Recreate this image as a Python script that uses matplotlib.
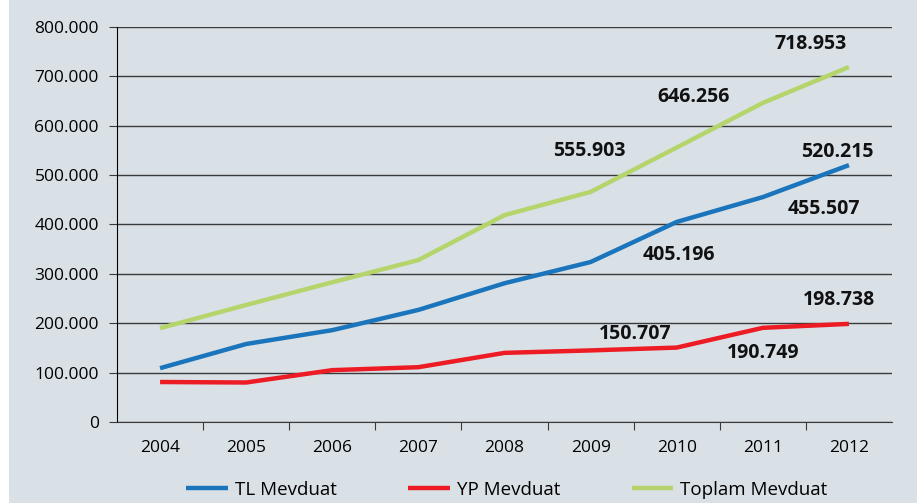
import matplotlib.pyplot as plt
from matplotlib.patches import Rectangle
from matplotlib.ticker import FuncFormatter, FixedLocator

years = ["2004", "2005", "2006", "2007", "2008", "2009", "2010", "2011", "2012"]
tl = [109000, 158000, 186000, 227000, 281000, 324000, 405196, 455507, 520215]
yp = [81000, 80000, 105000, 111000, 140000, 145000, 150707, 190749, 198738]
toplam = [190000, 237000, 283000, 328000, 419000, 466000, 555903, 646256, 718953]

# value labels: (text, x index, y)
labels = [
    ("718.953", 7.56, 765000), ("520.215", 7.86, 547000), ("455.507", 7.71, 431000),
    ("646.256", 6.2, 658000), ("555.903", 4.99, 549000), ("405.196", 6.03, 338000),
    ("150.707", 5.52, 178000), ("190.749", 7.0, 140000), ("198.738", 7.88, 247000),
]

plt.rcParams['font.family'] = ['Open Sans', 'DejaVu Sans']
bg = "#d9e1e7"

fig = plt.figure(figsize=(9.17, 5.03), dpi=100, facecolor="white")
fig.patches.append(Rectangle((9 / 917, 0), 1, 1, transform=fig.transFigure,
                             facecolor=bg, edgecolor="none", zorder=-10))
ax = fig.add_axes([117 / 917, 81 / 503, 775 / 917, 395 / 503])
ax.set_facecolor(bg)

x = list(range(len(years)))
ax.plot(x, tl, color="#1b75bc", lw=3.2, label="TL Mevduat", solid_capstyle="butt")
ax.plot(x, yp, color="#ed1c24", lw=3.2, label="YP Mevduat", solid_capstyle="butt")
ax.plot(x, toplam, color="#b5d56c", lw=3.2, label="Toplam Mevduat", solid_capstyle="butt")

for t, lx, ly in labels:
    ax.text(lx, ly, t, ha="center", va="center", fontsize=14, fontweight="bold", color="#111111")

ax.set_xlim(-0.5, len(years) - 0.5)
ax.set_ylim(0, 800000)
ax.set_yticks(range(0, 800001, 100000))
ax.yaxis.set_major_formatter(FuncFormatter(lambda v, p: "0" if v == 0 else f"{int(v):,}".replace(",", ".")))
ax.yaxis.grid(True, color="#3a3a3a", lw=1)
ax.set_axisbelow(True)

ax.xaxis.set_major_locator(FixedLocator([i + 0.5 for i in range(len(years) - 1)]))
ax.xaxis.set_minor_locator(FixedLocator(x))
ax.xaxis.set_minor_formatter(FuncFormatter(lambda v, p: years[int(round(v))]))
ax.set_xticklabels([])
ax.tick_params(axis="x", which="major", length=6, direction="out", color="#3a3a3a")
ax.tick_params(axis="x", which="minor", length=0, pad=13, labelsize=12.5)
ax.tick_params(axis="y", length=6, direction="out", labelsize=12.5, pad=7, color="#3a3a3a")

for s in ["top", "right"]:
    ax.spines[s].set_visible(False)
ax.spines["bottom"].set_color("#3a3a3a")
ax.spines["left"].set_color("black")

fig.legend(loc="lower center", bbox_to_anchor=(0.553, -0.025), ncol=3, frameon=False,
           fontsize=13.5, handlelength=2.2, columnspacing=3.8, handletextpad=0.4)

fig.savefig("out.png", dpi=100, facecolor=fig.get_facecolor())
